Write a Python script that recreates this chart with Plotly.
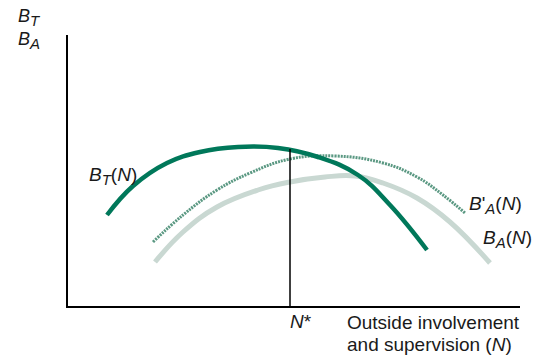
import plotly.graph_objects as go

# curve points (x = involvement N, y = benefit)
bt_x = [39, 65, 99, 132, 170, 210, 250, 290, 322, 359]
bt_y = [91, 120, 143, 154, 159, 158, 149, 131, 101, 56]

bpa_x = [85, 115, 149, 182, 222, 267, 315, 349, 375, 397]
bpa_y = [64, 91, 116, 133, 147, 150, 143, 129, 111, 93]

ba_x = [87, 115, 149, 190, 222, 257, 287, 315, 349, 382, 422]
ba_y = [44, 74, 99, 116, 124, 129, 130, 123, 108, 84, 43]

n_star = 222
n_star_top = 157

GREEN = "#00785a"
DOT = "#5a9882"
LIGHT = "#c9d8d2"
FONT = dict(family="Liberation Sans, Arial", size=19, color="#1a1a1a")


def sub(s):
    return '<sub><span style="font-size:15px">' + s + '</span></sub>'


fig = go.Figure()
fig.add_trace(go.Scatter(x=ba_x, y=ba_y, mode="lines",
                         line=dict(color=LIGHT, width=5, shape="spline", smoothing=1.2)))
fig.add_trace(go.Scatter(x=bpa_x, y=bpa_y, mode="lines",
                         line=dict(color=DOT, width=3, shape="spline", smoothing=1.2,
                                   dash="2px,1px")))
fig.add_trace(go.Scatter(x=bt_x, y=bt_y, mode="lines",
                         line=dict(color=GREEN, width=4.5, shape="spline", smoothing=1.2)))
fig.add_trace(go.Scatter(x=[n_star, n_star], y=[0, n_star_top], mode="lines",
                         line=dict(color="black", width=1.5)))

ann = [
    dict(x=71, y=130, text="<i>B" + sub("T") + "</i>(<i>N</i>)", xanchor="right", yanchor="middle"),
    dict(x=399, y=101, text="<i>B</i>'<i>" + sub("A") + "</i>(<i>N</i>)", xanchor="left", yanchor="middle"),
    dict(x=413, y=67, text="<i>B" + sub("A") + "</i>(<i>N</i>)", xanchor="left", yanchor="middle"),
]
for a in ann:
    fig.add_annotation(**a, showarrow=False, font=FONT)

# labels under the x axis (paper y so they are not hidden outside the range)
fig.add_annotation(x=n_star - 2, y=-3 / 271, yref="paper", text="<i>N</i>*",
                   xanchor="left", yanchor="top", showarrow=False, font=FONT)
fig.add_annotation(x=277, y=-4 / 271, yref="paper", text="Outside involvement",
                   xanchor="left", yanchor="top", showarrow=False, font=FONT)
fig.add_annotation(x=277, y=-26 / 271, yref="paper", text="and supervision (<i>N</i>)",
                   xanchor="left", yanchor="top", showarrow=False, font=FONT)

fig.add_annotation(x=-52 / 452, y=1 + 31 / 271, xref="paper", yref="paper",
                   xanchor="left", yanchor="top",
                   text="<i>B" + sub("T") + "</i><br><i>B" + sub("A") + "</i>",
                   showarrow=False, font=dict(FONT, size=18), align="left")

fig.update_layout(
    width=535, height=357,
    margin=dict(l=68, r=15, t=35, b=51),
    plot_bgcolor="white", paper_bgcolor="white",
    showlegend=False,
    xaxis=dict(range=[0, 452], showline=True, linecolor="black", linewidth=1.5,
               showgrid=False, zeroline=False, showticklabels=False, ticks=""),
    yaxis=dict(range=[0, 271], showline=True, linecolor="black", linewidth=1.5,
               showgrid=False, zeroline=False, showticklabels=False, ticks=""),
)

# drop the default 8px body margin so the figure fills the window exactly
fig.write_html("out.html", config={"displayModeBar": False},
               post_script="document.body.style.margin='0';document.body.style.overflow='hidden';")
